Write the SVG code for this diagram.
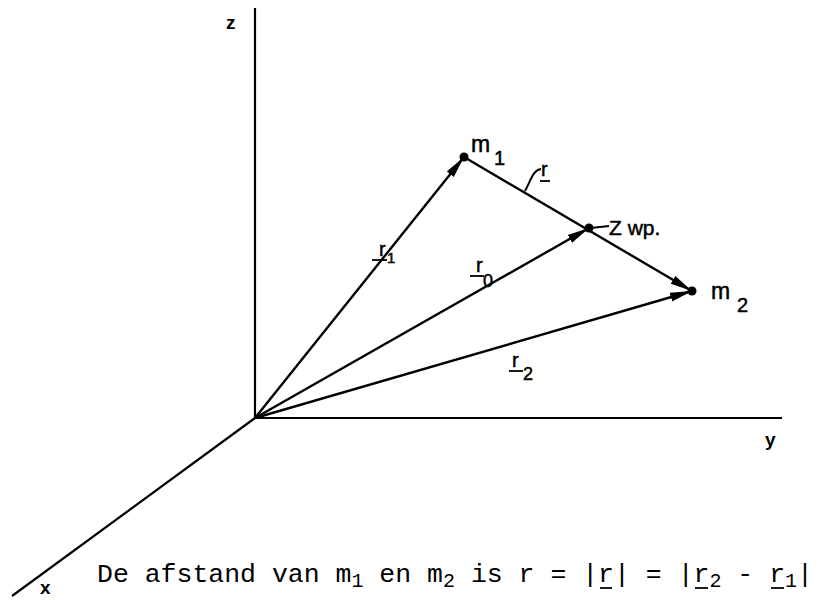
<svg xmlns="http://www.w3.org/2000/svg" width="826" height="600" viewBox="0 0 826 600">
<style>
  .ax { stroke:#000; stroke-width:2.2; fill:none; }
  .vec { stroke:#000; stroke-width:2.4; fill:none; }
  .lead { stroke:#000; stroke-width:2; fill:none; }
  .lbl { font-family:"Liberation Sans", Arial, sans-serif; fill:#000; stroke:#000; stroke-width:0.5; }
  .axl { font-family:"Liberation Sans", Arial, sans-serif; font-weight:bold; font-size:19px; fill:#000; }
  .cap { font-family:"Liberation Mono", "Courier New", monospace; font-size:26.5px; fill:#000; white-space:pre; }
  .sub { font-size:20px; }
  .ul { stroke:#000; stroke-width:1.8; }
</style>
<defs>
  <marker id="arr" markerUnits="userSpaceOnUse" markerWidth="28" markerHeight="12" refX="22" refY="5" orient="auto">
    <path d="M0,0.5 L22,5 L0,9.5 z" fill="#000"/>
  </marker>
</defs>
<rect width="826" height="600" fill="#fff"/>

<g id="axes">
  <line class="ax" x1="255" y1="8" x2="255" y2="418"/>
  <line class="ax" x1="255" y1="418" x2="782" y2="418"/>
  <line class="ax" x1="255" y1="418" x2="12" y2="596"/>
  <text class="axl" x="226" y="29">z</text>
  <text class="axl" x="765" y="446">y</text>
  <text class="axl" x="40" y="594">x</text>
</g>

<g id="connectors">
  <line class="vec" x1="255" y1="418" x2="464" y2="157" marker-end="url(#arr)"/>
  <line class="vec" x1="255" y1="418" x2="589" y2="228" marker-end="url(#arr)"/>
  <line class="vec" x1="255" y1="418" x2="692" y2="291" marker-end="url(#arr)"/>
  <line class="vec" x1="464" y1="157" x2="692" y2="291" marker-end="url(#arr)"/>
</g>

<g id="m1">
  <circle cx="464" cy="157" r="4.5"/>
  <text class="lbl" x="471" y="152" font-size="23">m</text>
  <text class="lbl" x="494" y="165" font-size="20">1</text>
</g>

<g id="zwp">
  <circle cx="589" cy="228" r="4.5"/>
  <line class="lead" x1="591" y1="228" x2="609" y2="226"/>
  <text class="lbl" x="609" y="235" font-size="21">Z wp.</text>
</g>

<g id="m2">
  <circle cx="692" cy="291" r="4.5"/>
  <text class="lbl" x="711" y="299" font-size="23">m</text>
  <text class="lbl" x="737" y="312" font-size="20">2</text>
</g>

<g id="label-r">
  <path class="lead" d="M525,191 C531,180 533,170 541,169"/>
  <text class="lbl" x="541" y="176" font-size="20">r</text>
  <line class="ul" x1="540" y1="181" x2="550" y2="181"/>
</g>

<g id="label-r1">
  <text class="lbl" x="379" y="256" font-size="20">r</text>
  <line class="ul" x1="372" y1="260" x2="387" y2="260"/>
  <text class="lbl" x="387" y="263" font-size="15">1</text>
</g>

<g id="label-r0">
  <text class="lbl" x="476" y="272" font-size="20">r</text>
  <line class="ul" x1="470" y1="276" x2="484" y2="276"/>
  <text class="lbl" x="483" y="287" font-size="18">0</text>
</g>

<g id="label-r2">
  <text class="lbl" x="512" y="367" font-size="20">r</text>
  <line class="ul" x1="509" y1="371" x2="523" y2="371"/>
  <text class="lbl" x="523" y="380" font-size="18">2</text>
</g>

<g id="caption">
  <text class="cap" x="97" y="582">De afstand van m<tspan class="sub" dy="5">1</tspan><tspan dy="-5"> en m</tspan><tspan class="sub" dy="5">2</tspan><tspan dy="-5"> is r = |r| = |r</tspan><tspan class="sub" dy="5">2</tspan><tspan dy="-5"> - r</tspan><tspan class="sub" dy="5">1</tspan><tspan dy="-5">|</tspan></text>
  <line class="ul" x1="600" y1="588" x2="612" y2="588"/>
  <line class="ul" x1="695" y1="588" x2="708" y2="588"/>
  <line class="ul" x1="771" y1="588" x2="784" y2="588"/>
</g>
</svg>
